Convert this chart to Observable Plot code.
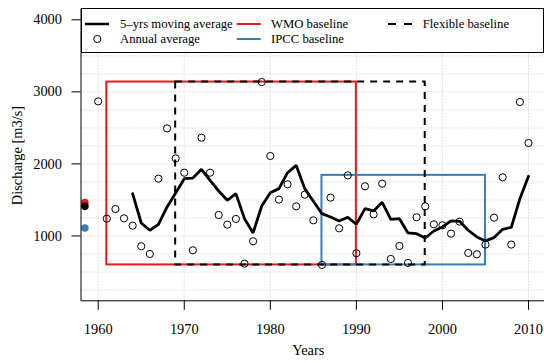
<!DOCTYPE html>
<html>
<head>
<meta charset="utf-8">
<script src="https://cdn.jsdelivr.net/npm/d3@7"></script>
<script src="https://cdn.jsdelivr.net/npm/@observablehq/plot@0.6"></script>
<style>
  html, body { margin: 0; padding: 0; background: #fff; }
  #chart { width: 544px; height: 363px; overflow: hidden; }
  #chart svg, #chart svg text { font-family: 'Liberation Serif', 'DejaVu Serif', serif !important; }
  #chart svg { font-size: 14.4px !important; }
</style>
</head>
<body>
<div id="chart"></div>
<script>
// ---- data ----
const years = d3.range(1960, 2011);
const annual = [2868,1240,1374,1245,1143,857,750,1795,2493,2077,
                1878,801,2364,1878,1291,1157,1236,616,926,3136,
                2110,1504,1717,1411,1573,1217,598,1532,1106,1841,
                760,1689,1300,1726,681,861,626,1259,1411,1162,
                1148,1032,1199,764,746,880,1254,1814,880,2859,2290];
const maYears = d3.range(1964, 2011);
const movingAvg = [1587,1180,1079,1162,1402,1596,1795,1804,1925,1772,
                   1624,1495,1587,1240,1042,1416,1601,1657,1878,1980,
                   1657,1481,1310,1264,1208,1259,1162,1379,1347,1467,
                   1231,1240,1042,1032,972,1069,1125,1208,1203,1079,
                   986,931,977,1092,1120,1518,1828];
const baselineNames = ["WMO baseline", "IPCC baseline", "Flexible baseline"];
const baselineStart = [1961, 1986, 1969];
const baselineEnd = [1990, 2005, 1998];
const baselineColors = ["#E41A1C", "#377EB8", "#000000"];
const baselineMeans = [1462, 1111, 1411];
const meanX = 1958.45;
const xTicks = [1960, 1970, 1980, 1990, 2000, 2010];
const yTicks = [1000, 2000, 3000, 4000];
const yGrid = d3.range(250, 4001, 250);
const xDomain = [1958, 2012];
const yDomain = [100, 4150];

// ---- tables ----
const annualData = years.map((y, i) => ({year: y, value: annual[i]}));
const maData = maYears.map((y, i) => ({year: y, value: movingAvg[i]}));
const baselines = baselineNames.map((n, i) => {
  const vals = annualData.filter(d => d.year >= baselineStart[i] && d.year <= baselineEnd[i]).map(d => d.value);
  return {name: n, x1: baselineStart[i], x2: baselineEnd[i], y1: d3.min(vals), y2: d3.max(vals),
          color: baselineColors[i], mean: baselineMeans[i], dashed: n.startsWith("Flexible")};
});

const font = "'Liberation Serif', 'DejaVu Serif', serif";
const fs = 14.4;

const svg = Plot.plot({
  width: 544,
  height: 363,
  marginLeft: 80.5,
  marginRight: 0,
  marginTop: 8.5,
  marginBottom: 62.7,
  style: {fontFamily: font, fontSize: fs + "px", background: "#fff", color: "#000"},
  x: {domain: xDomain, range: [80.5, 545.2]},
  y: {domain: yDomain},
  marks: [
    Plot.gridY(yGrid, {stroke: "#c8c8c8", strokeOpacity: 1, strokeDasharray: "1,2"}),
    Plot.gridX(xTicks, {stroke: "#c8c8c8", strokeOpacity: 1, strokeDasharray: "1,2"}),
    Plot.rect(baselines.filter(d => !d.dashed), {x1: "x1", x2: "x2", y1: "y1", y2: "y2",
      fill: "none", stroke: "color", strokeWidth: 2}),
    Plot.rect(baselines.filter(d => d.dashed), {x1: "x1", x2: "x2", y1: "y1", y2: "y2",
      fill: "none", stroke: "color", strokeWidth: 2, strokeDasharray: "7,6"}),
    Plot.line(maData, {x: "year", y: "value", stroke: "#000", strokeWidth: 2.8, strokeLinejoin: "miter"}),
    Plot.dot(annualData, {x: "year", y: "value", r: 3.6, stroke: "#000", strokeWidth: 1, fill: "none"}),
    Plot.dot(baselines, {x: () => meanX, y: "mean", r: 3.8, fill: "color", stroke: "none"}),
    Plot.ruleX([xDomain[0]], {stroke: "#000", strokeWidth: 1}),
    Plot.ruleY([yDomain[0]], {stroke: "#000", strokeWidth: 1}),
    Plot.axisX(xTicks, {tickSize: 9.5, tickPadding: 13, label: null, tickFormat: d => String(d), fill: "#000", stroke: "#000", fontFamily: font, fontSize: fs}),
    Plot.axisY(yTicks, {tickSize: 9, tickPadding: 10, label: null, tickFormat: d => String(d), fill: "#000", stroke: "#000", fontFamily: font, fontSize: fs}),
    Plot.text(["Years"], {frameAnchor: "bottom", dx: -4.5, dy: 49.7, textAnchor: "middle", lineAnchor: "middle", fill: "#000", fontFamily: font, fontSize: fs}),
    Plot.text(["Discharge [m3/s]"], {frameAnchor: "left", rotate: -90, dx: -63.8, dy: 0.6, textAnchor: "middle", lineAnchor: "middle", fill: "#000", fontFamily: font, fontSize: fs})
  ]
});

// ---- legend (drawn inside the plot area, top) ----
const lg = d3.select(svg).append("g")
  .attr("font-family", font).attr("font-size", 12.7).attr("fill", "#000")
  .attr("text-anchor", "start");
lg.append("rect").attr("x", 81.5).attr("y", 8.5).attr("width", 462).attr("height", 44)
  .attr("fill", "#fff").attr("stroke", "#000").attr("stroke-width", 1);
const row1 = 24, row2 = 39;
lg.append("line").attr("x1", 85).attr("x2", 109).attr("y1", row1).attr("y2", row1)
  .attr("stroke", "#000").attr("stroke-width", 2.5);
lg.append("text").attr("x", 120).attr("y", row1).attr("dy", "0.35em").attr("font-size", "12.7px").text("5\u2013yrs moving average");
lg.append("circle").attr("cx", 97.3).attr("cy", row2).attr("r", 3.6)
  .attr("fill", "none").attr("stroke", "#000").attr("stroke-width", 1);
lg.append("text").attr("x", 120).attr("y", row2).attr("dy", "0.35em").attr("font-size", "12.7px").text("Annual average");
const legendEntries = [
  {i: 0, x: 236.7, tx: 271, y: row1},
  {i: 1, x: 236.7, tx: 271, y: row2},
  {i: 2, x: 388, tx: 422.7, y: row1}
];
for (const e of legendEntries) {
  const b = baselines[e.i];
  lg.append("line").attr("x1", e.x).attr("x2", e.x + 24).attr("y1", e.y).attr("y2", e.y)
    .attr("stroke", b.color).attr("stroke-width", 2)
    .attr("stroke-dasharray", b.dashed ? "8,8" : null);
  lg.append("text").attr("x", e.tx).attr("y", e.y).attr("dy", "0.35em").attr("font-size", "12.7px").text(b.name);
}

document.getElementById("chart").appendChild(svg);
</script>
</body>
</html>
